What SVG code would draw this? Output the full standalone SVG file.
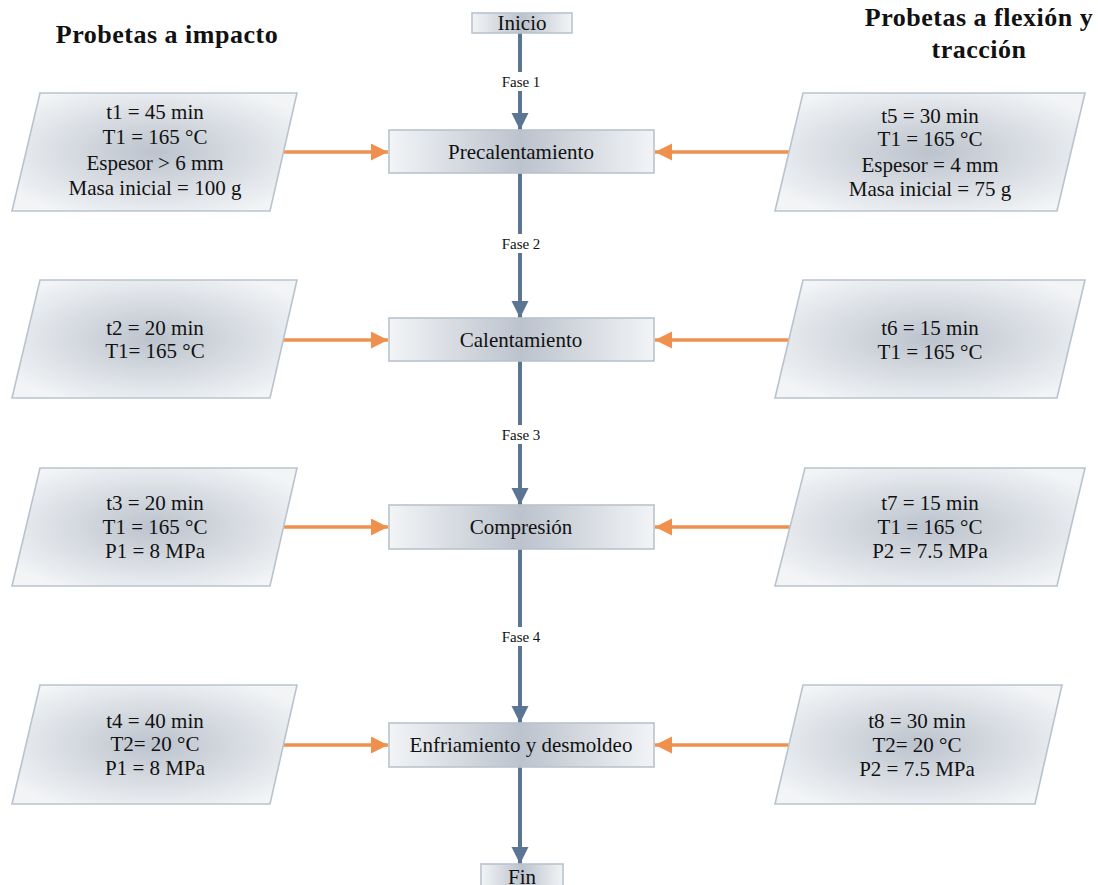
<svg xmlns="http://www.w3.org/2000/svg" width="1098" height="885" viewBox="0 0 1098 885">
<defs>
<radialGradient id="g" cx="50%" cy="50%" r="60%">
<stop offset="0" stop-color="#bcc3cd"/>
<stop offset="1" stop-color="#f2f4f6"/>
</radialGradient>
<linearGradient id="gb" x1="0" y1="0" x2="1" y2="0">
<stop offset="0" stop-color="#f2f4f6"/>
<stop offset="0.5" stop-color="#bcc3cd"/>
<stop offset="1" stop-color="#f2f4f6"/>
</linearGradient>
<marker id="ab" markerUnits="userSpaceOnUse" markerWidth="18" markerHeight="18" refX="17" refY="8.5" orient="auto">
<path d="M0,0 L17,8.5 L0,17 Z" fill="#5b7593"/>
</marker>
<marker id="ao" markerUnits="userSpaceOnUse" markerWidth="18" markerHeight="18" refX="17" refY="8.5" orient="auto">
<path d="M0,0 L17,8.5 L0,17 Z" fill="#f0904f"/>
</marker>
</defs>
<style>
.para{fill:url(#g);stroke:#b9c3ce;stroke-width:1.6}
.box{fill:url(#gb);stroke:#b9c3ce;stroke-width:1.6}
.t{font-family:"Liberation Serif",serif;font-size:21px;fill:#111;text-anchor:middle}
.h{font-family:"Liberation Serif",serif;font-size:26px;font-weight:bold;fill:#111;text-anchor:middle;letter-spacing:0.5px}
.f{font-family:"Liberation Serif",serif;font-size:15px;fill:#111;text-anchor:middle}
.bl{stroke:#5b7593;stroke-width:4;fill:none}
.or{stroke:#f0904f;stroke-width:3.5;fill:none}
</style>
<rect width="1098" height="885" fill="#fff"/>

<g id="headings">
<text class="h" x="167" y="43">Probetas a impacto</text>
<text class="h" x="979" y="26">Probetas a flexión y</text>
<text class="h" x="979" y="58">tracción</text>
</g>

<g id="connectors">
<line class="bl" x1="520" y1="33" x2="520" y2="130" marker-end="url(#ab)"/>
<line class="bl" x1="520" y1="173" x2="520" y2="318" marker-end="url(#ab)"/>
<line class="bl" x1="520" y1="361" x2="520" y2="505" marker-end="url(#ab)"/>
<line class="bl" x1="520" y1="549" x2="520" y2="723" marker-end="url(#ab)"/>
<line class="bl" x1="520" y1="767" x2="520" y2="864" marker-end="url(#ab)"/>
<rect x="496" y="72" width="50" height="19" fill="#fff"/>
<text class="f" x="521" y="87">Fase 1</text>
<rect x="496" y="234" width="50" height="19" fill="#fff"/>
<text class="f" x="521" y="249">Fase 2</text>
<rect x="496" y="425" width="50" height="19" fill="#fff"/>
<text class="f" x="521" y="440">Fase 3</text>
<rect x="496" y="627" width="50" height="19" fill="#fff"/>
<text class="f" x="521" y="642">Fase 4</text>
<line class="or" x1="283" y1="152" x2="388" y2="152" marker-end="url(#ao)"/>
<line class="or" x1="283" y1="340" x2="388" y2="340" marker-end="url(#ao)"/>
<line class="or" x1="283" y1="527" x2="388" y2="527" marker-end="url(#ao)"/>
<line class="or" x1="283" y1="745" x2="388" y2="745" marker-end="url(#ao)"/>
<line class="or" x1="790" y1="152" x2="655" y2="152" marker-end="url(#ao)"/>
<line class="or" x1="790" y1="340" x2="655" y2="340" marker-end="url(#ao)"/>
<line class="or" x1="790" y1="527" x2="655" y2="527" marker-end="url(#ao)"/>
<line class="or" x1="790" y1="745" x2="655" y2="745" marker-end="url(#ao)"/>
</g>

<g id="inicio">
<rect class="box" x="472" y="13" width="100" height="20"/>
<text class="t" x="522" y="30">Inicio</text>
</g>

<g id="precalentamiento">
<rect class="box" x="389" y="130" width="265" height="43"/>
<text class="t" x="521" y="159">Precalentamiento</text>
</g>
<g id="calentamiento">
<rect class="box" x="389" y="318" width="265" height="43"/>
<text class="t" x="521" y="347">Calentamiento</text>
</g>
<g id="compresion">
<rect class="box" x="389" y="505" width="265" height="44"/>
<text class="t" x="521" y="534">Compresión</text>
</g>
<g id="enfriamiento">
<rect class="box" x="389" y="723" width="265" height="44"/>
<text class="t" x="521" y="752">Enfriamiento y desmoldeo</text>
</g>
<g id="fin">
<rect class="box" x="481" y="864" width="82" height="30"/>
<text class="t" x="522" y="884">Fin</text>
</g>

<g id="impacto1">
<path class="para" d="M40,93 L297,93 L270,211 L12,211 Z"/>
<text class="t" x="155" y="119">t1 = 45 min</text>
<text class="t" x="155" y="144">T1 = 165 °C</text>
<text class="t" x="155" y="170">Espesor &gt; 6 mm</text>
<text class="t" x="155" y="195">Masa inicial = 100 g</text>
</g>
<g id="impacto2">
<path class="para" d="M40,280 L297,280 L270,398 L12,398 Z"/>
<text class="t" x="155" y="335">t2 = 20 min</text>
<text class="t" x="155" y="358">T1= 165 °C</text>
</g>
<g id="impacto3">
<path class="para" d="M40,468 L297,468 L270,586 L12,586 Z"/>
<text class="t" x="155" y="510">t3 = 20 min</text>
<text class="t" x="155" y="534">T1 = 165 °C</text>
<text class="t" x="155" y="558">P1 = 8 MPa</text>
</g>
<g id="impacto4">
<path class="para" d="M40,685 L297,685 L270,804 L12,804 Z"/>
<text class="t" x="155" y="728">t4 = 40 min</text>
<text class="t" x="155" y="751">T2= 20 °C</text>
<text class="t" x="155" y="775">P1 = 8 MPa</text>
</g>

<g id="flexion1">
<path class="para" d="M803,93 L1085,93 L1057,211 L775,211 Z"/>
<text class="t" x="930" y="123">t5 = 30 min</text>
<text class="t" x="930" y="146">T1 = 165 °C</text>
<text class="t" x="930" y="172">Espesor = 4 mm</text>
<text class="t" x="930" y="196">Masa inicial = 75 g</text>
</g>
<g id="flexion2">
<path class="para" d="M803,280 L1085,280 L1057,398 L775,398 Z"/>
<text class="t" x="930" y="335">t6 = 15 min</text>
<text class="t" x="930" y="359">T1 = 165 °C</text>
</g>
<g id="flexion3">
<path class="para" d="M805,468 L1085,468 L1057,586 L775,586 Z"/>
<text class="t" x="930" y="510">t7 = 15 min</text>
<text class="t" x="930" y="534">T1 = 165 °C</text>
<text class="t" x="930" y="558">P2 = 7.5 MPa</text>
</g>
<g id="flexion4">
<path class="para" d="M803,685 L1062,685 L1035,804 L775,804 Z"/>
<text class="t" x="917" y="728">t8 = 30 min</text>
<text class="t" x="917" y="752">T2= 20 °C</text>
<text class="t" x="917" y="776">P2 = 7.5 MPa</text>
</g>
</svg>
